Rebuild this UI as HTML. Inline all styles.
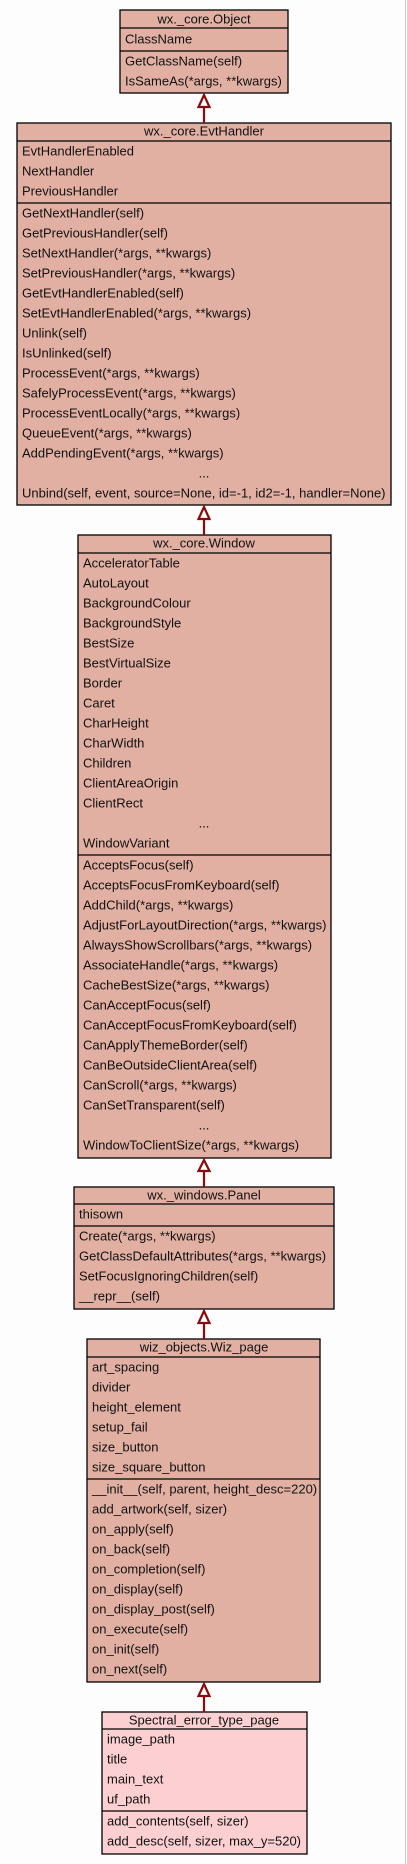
<!DOCTYPE html>
<html><head><meta charset="utf-8"><style>
html,body{margin:0;padding:0;background:#fdfdfd;}
svg{display:block;}
text{font-family:"Liberation Sans",Arial,sans-serif;font-size:13px;fill:#111;}
.t{text-anchor:middle;}
</style></head><body>
<svg width="407" height="1864" viewBox="0 0 407 1864" xmlns="http://www.w3.org/2000/svg">
<line x1="405.5" y1="0" x2="405.5" y2="1864" stroke="#c8c8c8" stroke-width="1"/>
<g stroke="#000" stroke-width="1.3">
<!-- Object -->
<rect x="120" y="10" width="168" height="83" fill="#e2b0a3"/>
<line x1="120" y1="28" x2="288" y2="28"/><line x1="120" y1="51" x2="288" y2="51"/>
<!-- EvtHandler -->
<rect x="17" y="123" width="374" height="382" fill="#e2b0a3"/>
<line x1="17" y1="141" x2="391" y2="141"/><line x1="17" y1="203" x2="391" y2="203"/>
<!-- Window -->
<rect x="78" y="535" width="253" height="623" fill="#e2b0a3"/>
<line x1="78" y1="553" x2="331" y2="553"/><line x1="78" y1="855" x2="331" y2="855"/>
<!-- Panel -->
<rect x="74" y="1187" width="260" height="122" fill="#e2b0a3"/>
<line x1="74" y1="1204" x2="334" y2="1204"/><line x1="74" y1="1226" x2="334" y2="1226"/>
<!-- Wiz -->
<rect x="87" y="1339" width="233" height="343" fill="#e2b0a3"/>
<line x1="87" y1="1357" x2="320" y2="1357"/><line x1="87" y1="1479" x2="320" y2="1479"/>
<!-- Spectral -->
<rect x="102" y="1712" width="205" height="142" fill="#fcd0d2"/>
<line x1="102" y1="1729" x2="307" y2="1729"/><line x1="102" y1="1811" x2="307" y2="1811"/>
</g>
<g stroke="#8b0a0a" stroke-width="2.2" fill="#fdfdfd">
<line x1="204" y1="123" x2="204" y2="107"/><polygon points="204,95 198.5,107 209.5,107"/>
<line x1="204" y1="535" x2="204" y2="519"/><polygon points="204,507 198.5,519 209.5,519"/>
<line x1="204" y1="1187" x2="204" y2="1171"/><polygon points="204,1160 198.5,1171 209.5,1171"/>
<line x1="204" y1="1339" x2="204" y2="1323"/><polygon points="204,1311 198.5,1323 209.5,1323"/>
<line x1="204" y1="1712" x2="204" y2="1696"/><polygon points="204,1684 198.5,1696 209.5,1696"/>
</g>
<g dominant-baseline="central">
<text class="t" x="204" y="19">wx._core.Object</text>
<text x="125" y="39">ClassName</text>
<text x="125" y="61">GetClassName(self)</text>
<text x="125" y="81">IsSameAs(*args, **kwargs)</text>

<text class="t" x="204" y="131">wx._core.EvtHandler</text>
<text x="22" y="151">EvtHandlerEnabled</text>
<text x="22" y="171">NextHandler</text>
<text x="22" y="191">PreviousHandler</text>
<text x="22" y="213">GetNextHandler(self)</text>
<text x="22" y="233">GetPreviousHandler(self)</text>
<text x="22" y="253">SetNextHandler(*args, **kwargs)</text>
<text x="22" y="273">SetPreviousHandler(*args, **kwargs)</text>
<text x="22" y="293">GetEvtHandlerEnabled(self)</text>
<text x="22" y="313">SetEvtHandlerEnabled(*args, **kwargs)</text>
<text x="22" y="333">Unlink(self)</text>
<text x="22" y="353">IsUnlinked(self)</text>
<text x="22" y="373">ProcessEvent(*args, **kwargs)</text>
<text x="22" y="393">SafelyProcessEvent(*args, **kwargs)</text>
<text x="22" y="413">ProcessEventLocally(*args, **kwargs)</text>
<text x="22" y="433">QueueEvent(*args, **kwargs)</text>
<text x="22" y="453">AddPendingEvent(*args, **kwargs)</text>
<text class="t" x="204" y="473">...</text>
<text x="22" y="493">Unbind(self, event, source=None, id=-1, id2=-1, handler=None)</text>

<text class="t" x="204" y="543">wx._core.Window</text>
<text x="83" y="563">AcceleratorTable</text>
<text x="83" y="583">AutoLayout</text>
<text x="83" y="603">BackgroundColour</text>
<text x="83" y="623">BackgroundStyle</text>
<text x="83" y="643">BestSize</text>
<text x="83" y="663">BestVirtualSize</text>
<text x="83" y="683">Border</text>
<text x="83" y="703">Caret</text>
<text x="83" y="723">CharHeight</text>
<text x="83" y="743">CharWidth</text>
<text x="83" y="763">Children</text>
<text x="83" y="783">ClientAreaOrigin</text>
<text x="83" y="803">ClientRect</text>
<text class="t" x="204" y="823">...</text>
<text x="83" y="843">WindowVariant</text>
<text x="83" y="865">AcceptsFocus(self)</text>
<text x="83" y="885">AcceptsFocusFromKeyboard(self)</text>
<text x="83" y="905">AddChild(*args, **kwargs)</text>
<text x="83" y="925">AdjustForLayoutDirection(*args, **kwargs)</text>
<text x="83" y="945">AlwaysShowScrollbars(*args, **kwargs)</text>
<text x="83" y="965">AssociateHandle(*args, **kwargs)</text>
<text x="83" y="985">CacheBestSize(*args, **kwargs)</text>
<text x="83" y="1005">CanAcceptFocus(self)</text>
<text x="83" y="1025">CanAcceptFocusFromKeyboard(self)</text>
<text x="83" y="1045">CanApplyThemeBorder(self)</text>
<text x="83" y="1065">CanBeOutsideClientArea(self)</text>
<text x="83" y="1085">CanScroll(*args, **kwargs)</text>
<text x="83" y="1105">CanSetTransparent(self)</text>
<text class="t" x="204" y="1125">...</text>
<text x="83" y="1145">WindowToClientSize(*args, **kwargs)</text>

<text class="t" x="204" y="1195">wx._windows.Panel</text>
<text x="79" y="1214">thisown</text>
<text x="79" y="1236">Create(*args, **kwargs)</text>
<text x="79" y="1256">GetClassDefaultAttributes(*args, **kwargs)</text>
<text x="79" y="1276">SetFocusIgnoringChildren(self)</text>
<text x="79" y="1296">__repr__(self)</text>

<text class="t" x="204" y="1347">wiz_objects.Wiz_page</text>
<text x="92" y="1367">art_spacing</text>
<text x="92" y="1387">divider</text>
<text x="92" y="1407">height_element</text>
<text x="92" y="1427">setup_fail</text>
<text x="92" y="1447">size_button</text>
<text x="92" y="1467">size_square_button</text>
<text x="92" y="1489">__init__(self, parent, height_desc=220)</text>
<text x="92" y="1509">add_artwork(self, sizer)</text>
<text x="92" y="1529">on_apply(self)</text>
<text x="92" y="1549">on_back(self)</text>
<text x="92" y="1569">on_completion(self)</text>
<text x="92" y="1589">on_display(self)</text>
<text x="92" y="1609">on_display_post(self)</text>
<text x="92" y="1629">on_execute(self)</text>
<text x="92" y="1649">on_init(self)</text>
<text x="92" y="1669">on_next(self)</text>

<text class="t" x="204" y="1720">Spectral_error_type_page</text>
<text x="107" y="1739">image_path</text>
<text x="107" y="1759">title</text>
<text x="107" y="1779">main_text</text>
<text x="107" y="1799">uf_path</text>
<text x="107" y="1821">add_contents(self, sizer)</text>
<text x="107" y="1841">add_desc(self, sizer, max_y=520)</text>
</g>
</svg>
</body></html>
